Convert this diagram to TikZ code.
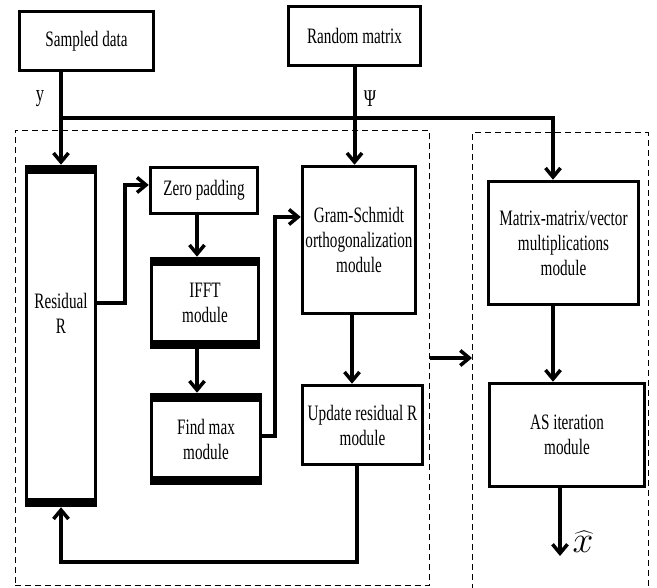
\documentclass[tikz,border=0pt]{standalone}
\usepackage{fontspec}
\usepackage{graphicx}
\setmainfont[FakeStretch=0.69]{Liberation Serif}
\usetikzlibrary{arrows.meta}
\begin{document}
\begin{tikzpicture}[x=1pt,y=-1pt,
  box/.style={draw,line width=3.5pt,inner sep=0pt,align=center,font=\fontsize{22}{25}\selectfont},
  conn/.style={line width=4pt},
  arr/.style={line width=4pt,-{Straight Barb[length=9pt,width=15pt,line width=3.5pt]}},
  dbox/.style={draw,line width=1pt,dash pattern=on 6pt off 4pt},
  lab/.style={font=\fontsize{24}{26}\selectfont,inner sep=0pt}]
\useasboundingbox (0,0) rectangle (657,588);
% dashed regions
\node[dbox,minimum width=414pt,minimum height=455pt,inner sep=0pt] (lbox) at (222,358) {};
\draw[line width=1pt,dash pattern=on 6pt off 4pt] (472,600) -- (472,133) -- (648,133) -- (648,600);
\coordinate (rboxw) at (472,358);
% boxes
\node[box,minimum width=134pt,minimum height=59pt] (sd) at (86.5,41) {Sampled data};
\node[box,minimum width=132pt,minimum height=59pt] (rm) at (354.5,36) {Random matrix};
\node[box,minimum width=69pt,minimum height=339pt] (res) at (61,336) {Residual\\R\\[20pt]};
\node[box,minimum width=107pt,minimum height=46pt] (zp) at (204,190.5) {Zero padding};
\node[box,minimum width=107pt,minimum height=89pt] (ifft) at (205,303) {IFFT\\module};
\node[box,minimum width=109pt,minimum height=89pt] (fm) at (206,439) {Find max\\module};
\node[box,minimum width=113pt,minimum height=147pt] (gs) at (359,240) {Gram-Schmidt\\orthogonalization\\module};
\node[box,minimum width=120pt,minimum height=79pt] (ur) at (362.5,425) {Update residual R\\module};
\node[box,minimum width=150pt,minimum height=123pt] (mm) at (563.5,243) {Matrix-matrix/vector\\multiplications\\module};
\node[box,minimum width=155pt,minimum height=103pt] (as) at (567,435) {AS iteration\\module};
% thick bars
\foreach \n in {res,ifft,fm}{
  \fill (\n.north west) rectangle ([yshift=-9pt]\n.north east);
  \fill (\n.south west) rectangle ([yshift=9pt]\n.south east);
}
% labels
\node[lab] (ly) at (40,99) {y};
\node[lab] (lpsi) at (370,99) {Ψ};
% inputs
\coordinate (jy) at (61,118);
\coordinate (jr) at (553,118);
\draw[conn] (res.north |- sd.south) -- (jy) -- ([xshift=2pt]jr);
\draw[arr] (jy) -- (res.north);
\draw[arr] (jr) -- (jr |- mm.north);
\draw[arr] (rm.south) -- (rm.south |- gs.north);
% residual -> zero padding
\coordinate (rz) at (125,185);
\draw[arr] (res.east |- 0,303) -| (rz) -- (rz -| zp.west);
\draw[arr] (197,0 |- zp.south) -- (197,0 |- ifft.north);
\draw[arr] (197,0 |- ifft.south) -- (197,0 |- fm.north);
\coordinate (fg) at (275,217);
\draw[arr] (fm.east |- 0,436) -| (fg) -- (fg -| gs.west);
\draw[arr] (352,0 |- gs.south) -- (352,0 |- ur.north);
\coordinate (fb) at (61,562);
\draw[arr] (357,0 |- ur.south) |- (fb) -- (res.south);
% between regions
\draw[arr] (lbox.east |- rboxw) -- (rboxw);
% right region
\draw[arr] (553,0 |- mm.south) -- (553,0 |- as.north);
\coordinate (out) at (560,556);
\draw[arr] (560,0 |- as.south) -- (out);
\node[inner sep=0pt] (xh) at (583,542) {\scalebox{1.8}{\fontsize{20}{22}\selectfont$\widehat{x}$}};
\end{tikzpicture}
\end{document}
